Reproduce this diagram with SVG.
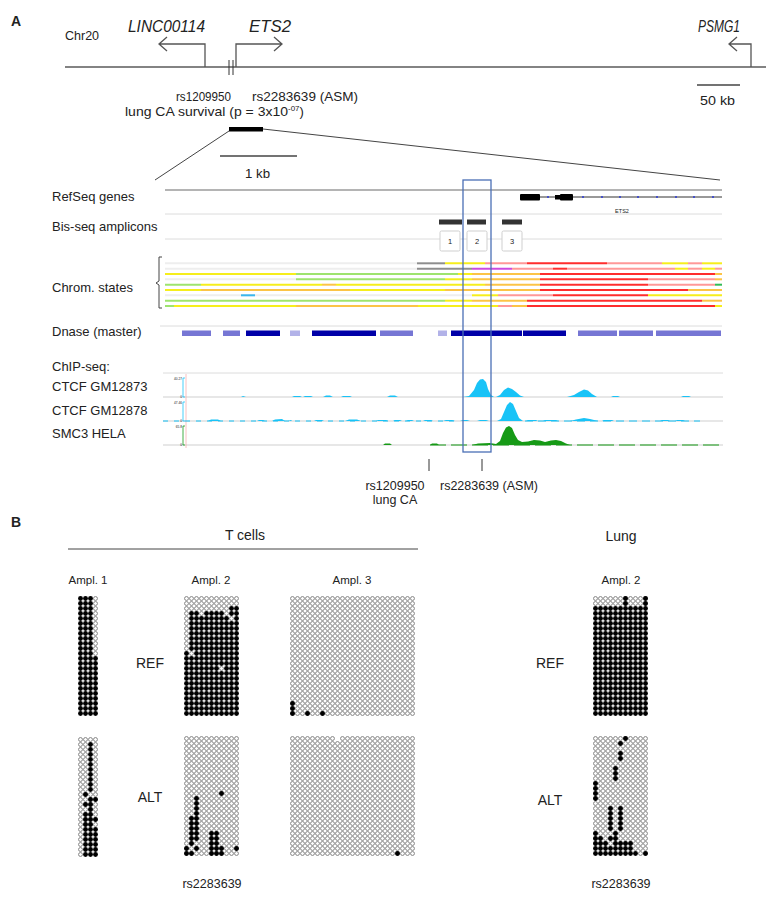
<svg xmlns="http://www.w3.org/2000/svg" xmlns:xlink="http://www.w3.org/1999/xlink" width="768" height="898" viewBox="0 0 768 898">
<style>
text{font-family:"Liberation Sans",Arial,sans-serif;fill:#222}
.lab{font-size:13px}
.it{font-style:italic;font-size:16px}
.b{font-weight:bold;font-size:14px}
.ax{stroke:#555;stroke-width:1.3;fill:none}
.cs line{stroke-width:2}
.cy{stroke:#f6ee1c}.cg{stroke:#9ee46e}.co{stroke:#fcc446}.cr{stroke:#ff2d2d}.cp{stroke:#ff9898}.cgr{stroke:#8e8e8e}.cm{stroke:#cc4ae0}.cb{stroke:#3ab7ee}.cf{stroke:#eeeeee}.cdg{stroke:#33bb55}
.sep{stroke:#dcdcdc;stroke-width:1}
.dk{fill:#0000a8}.dm{fill:#7676d4}.dl{fill:#b2b2e8}
.cyan{fill:#19c3f7}.grn{fill:#169a16}
</style>
<defs>
<pattern id="po" width="5" height="5" patternUnits="userSpaceOnUse"><rect width="5" height="5" fill="#fff"/><circle cx="2.5" cy="2.5" r="1.95" fill="#fff" stroke="#858585" stroke-width="1"/></pattern>
<pattern id="pk" width="5" height="5" patternUnits="userSpaceOnUse"><rect width="5" height="5" fill="#fff"/><circle cx="2.5" cy="2.5" r="2.45" fill="#000"/></pattern>
<circle id="k" cx="2.5" cy="2.5" r="2.45" fill="#000"/>
<g id="o"><rect width="5" height="5" fill="#fff"/><circle cx="2.5" cy="2.5" r="1.95" fill="#fff" stroke="#858585" stroke-width="1"/></g>
</defs>
<rect width="768" height="898" fill="#fff"/>

<!-- Panel A top -->
<g id="panelA-top">
<text class="b" x="11" y="26">A</text>
<text x="65" y="40" font-size="12.5">Chr20</text>
<text class="it" x="128" y="32" textLength="77" lengthAdjust="spacingAndGlyphs">LINC00114</text>
<text class="it" x="249" y="32" textLength="42" lengthAdjust="spacingAndGlyphs">ETS2</text>
<text class="it" x="698" y="32" textLength="42" lengthAdjust="spacingAndGlyphs">PSMG1</text>
<line x1="65" y1="67" x2="766" y2="67" stroke="#5a5a5a" stroke-width="1.5"/>
<path class="ax" d="M205,67 V44 H159 M167,37 L159,44 L167,51"/>
<path class="ax" d="M236,67 V44 H282 M274,37 L282,44 L274,51"/>
<path class="ax" d="M751,67 V44 H729 M737,37 L729,44 L737,51"/>
<line x1="229" y1="60" x2="229" y2="75" stroke="#333" stroke-width="1"/>
<line x1="233" y1="60" x2="233" y2="75" stroke="#333" stroke-width="1"/>
<line x1="697" y1="85" x2="740" y2="85" stroke="#444" stroke-width="1.3"/>
<text x="700" y="105" font-size="13" textLength="35" lengthAdjust="spacingAndGlyphs">50 kb</text>
<text x="176" y="101" font-size="13" textLength="55" lengthAdjust="spacingAndGlyphs">rs1209950</text>
<text x="252" y="101" font-size="13" textLength="106" lengthAdjust="spacingAndGlyphs">rs2283639 (ASM)</text>
<text x="125" y="116" font-size="13"><tspan textLength="163" lengthAdjust="spacingAndGlyphs">lung CA survival (p = 3x10</tspan><tspan dy="-5" font-size="8">-07</tspan><tspan dy="5">)</tspan></text>
<rect x="229" y="127" width="34" height="4.5" fill="#000"/>
<line x1="229" y1="131" x2="155" y2="180" stroke="#444" stroke-width="1"/>
<line x1="263" y1="129" x2="720" y2="180" stroke="#444" stroke-width="1"/>
<line x1="220" y1="156" x2="297" y2="156" stroke="#444" stroke-width="1.3"/>
<text x="245" y="178" font-size="13" textLength="25" lengthAdjust="spacingAndGlyphs">1 kb</text>
</g>

<!-- Track labels -->
<g id="track-labels" class="lab">
<text class="lab" x="52" y="201">RefSeq genes</text>
<text class="lab" x="52" y="231">Bis-seq amplicons</text>
<text class="lab" x="52" y="292">Chrom. states</text>
<text class="lab" x="52" y="336">Dnase (master)</text>
<text class="lab" x="52" y="371">ChIP-seq:</text>
<text class="lab" x="52" y="391">CTCF GM12873</text>
<text class="lab" x="52" y="415">CTCF GM12878</text>
<text class="lab" x="52" y="438">SMC3 HELA</text>
</g>

<!-- RefSeq -->
<g id="refseq">
<line x1="165" y1="190" x2="722" y2="190" stroke="#b4b4b4" stroke-width="2"/>
<line x1="520" y1="197" x2="722" y2="197" stroke="#333" stroke-width="1"/>
<rect x="520" y="194" width="20" height="6.5" rx="1" fill="#000"/>
<rect x="555" y="195" width="6" height="4.5" fill="#000"/>
<rect x="560" y="194" width="13" height="6.5" rx="1" fill="#000"/>
<g fill="#2a3ad6">
<circle cx="548" cy="197" r="1"/><circle cx="583" cy="197" r="1"/><circle cx="602" cy="197" r="1"/><circle cx="620" cy="197" r="1"/><circle cx="638" cy="197" r="1"/><circle cx="657" cy="197" r="1"/><circle cx="676" cy="197" r="1"/><circle cx="694" cy="197" r="1"/><circle cx="713" cy="197" r="1"/>
</g>
<text x="622" y="213" font-size="5.5" text-anchor="middle" fill="#333">ETS2</text>
<line class="sep" x1="165" y1="214" x2="722" y2="214"/>
</g>

<!-- Amplicons -->
<g id="amplicons">
<line class="sep" x1="165" y1="239" x2="722" y2="239"/>
<rect x="439" y="219.5" width="23" height="5" fill="#333"/>
<rect x="467" y="219.5" width="19" height="5" fill="#333"/>
<rect x="502" y="219.5" width="20" height="5" fill="#333"/>
<rect x="440" y="231" width="20" height="20" rx="1.5" fill="#fff" stroke="#cfcfcf" stroke-width="1"/>
<rect x="467" y="231" width="20" height="20" rx="1.5" fill="#fff" stroke="#cfcfcf" stroke-width="1"/>
<rect x="502" y="231" width="20" height="20" rx="1.5" fill="#fff" stroke="#cfcfcf" stroke-width="1"/>
<text x="450" y="244" font-size="7.5" text-anchor="middle" fill="#555">1</text>
<text x="477" y="244" font-size="7.5" text-anchor="middle" fill="#555">2</text>
<text x="512" y="244" font-size="7.5" text-anchor="middle" fill="#555">3</text>
</g>

<!-- Chromatin states -->
<g id="chrom-states" class="cs">
<path d="M162,257 H159 V281 L156,283 L159,285 V308 H162" fill="none" stroke="#444" stroke-width="1"/>
<line class="cf" x1="165" y1="263.3" x2="417" y2="263.3"/><line class="cgr" x1="417" y1="263.3" x2="445" y2="263.3"/><line class="cy" x1="445" y1="263.3" x2="485" y2="263.3"/><line class="cp" x1="485" y1="263.3" x2="527" y2="263.3"/><line class="cr" x1="527" y1="263.3" x2="607" y2="263.3"/><line class="cp" x1="607" y1="263.3" x2="662" y2="263.3"/><line class="cy" x1="662" y1="263.3" x2="688" y2="263.3"/><line class="cp" x1="688" y1="263.3" x2="702" y2="263.3"/><line class="cy" x1="702" y1="263.3" x2="722" y2="263.3"/>
<line class="cf" x1="165" y1="268.7" x2="417" y2="268.7"/><line class="cgr" x1="417" y1="268.7" x2="472" y2="268.7"/><line class="cm" x1="472" y1="268.7" x2="512" y2="268.7"/><line class="cp" x1="512" y1="268.7" x2="553" y2="268.7"/><line class="cr" x1="553" y1="268.7" x2="567" y2="268.7"/><line class="cp" x1="567" y1="268.7" x2="675" y2="268.7"/><line class="cy" x1="675" y1="268.7" x2="688" y2="268.7"/><line class="cp" x1="688" y1="268.7" x2="702" y2="268.7"/><line class="cy" x1="702" y1="268.7" x2="715" y2="268.7"/><line class="cp" x1="715" y1="268.7" x2="722" y2="268.7"/>
<line class="cy" x1="165" y1="274" x2="296" y2="274"/><line class="cg" x1="296" y1="274" x2="458" y2="274"/><line class="cy" x1="458" y1="274" x2="472" y2="274"/><line class="co" x1="472" y1="274" x2="540" y2="274"/><line class="cr" x1="540" y1="274" x2="715" y2="274"/><line class="co" x1="715" y1="274" x2="722" y2="274"/>
<line class="cf" x1="165" y1="279.3" x2="296" y2="279.3"/><line class="cg" x1="296" y1="279.3" x2="445" y2="279.3"/><line class="cy" x1="445" y1="279.3" x2="472" y2="279.3"/><line class="co" x1="472" y1="279.3" x2="540" y2="279.3"/><line class="cr" x1="540" y1="279.3" x2="648" y2="279.3"/><line class="cp" x1="648" y1="279.3" x2="715" y2="279.3"/><line class="co" x1="715" y1="279.3" x2="722" y2="279.3"/>
<line class="cg" x1="165" y1="284.7" x2="201" y2="284.7"/><line class="cy" x1="201" y1="284.7" x2="322" y2="284.7"/><line class="co" x1="322" y1="284.7" x2="336" y2="284.7"/><line class="cy" x1="336" y1="284.7" x2="485" y2="284.7"/><line class="co" x1="485" y1="284.7" x2="540" y2="284.7"/><line class="cr" x1="540" y1="284.7" x2="648" y2="284.7"/><line class="cp" x1="648" y1="284.7" x2="715" y2="284.7"/><line class="cdg" x1="715" y1="284.7" x2="722" y2="284.7"/>
<line class="cy" x1="165" y1="290" x2="201" y2="290"/><line class="co" x1="201" y1="290" x2="350" y2="290"/><line class="cy" x1="350" y1="290" x2="445" y2="290"/><line class="co" x1="445" y1="290" x2="540" y2="290"/><line class="cr" x1="540" y1="290" x2="688" y2="290"/><line class="co" x1="688" y1="290" x2="722" y2="290"/>
<line class="cf" x1="165" y1="295.3" x2="472" y2="295.3"/><line class="cb" x1="241" y1="295.3" x2="255" y2="295.3"/><line class="cy" x1="472" y1="295.3" x2="498" y2="295.3"/><line class="cp" x1="498" y1="295.3" x2="553" y2="295.3"/><line class="cr" x1="553" y1="295.3" x2="648" y2="295.3"/><line class="cy" x1="648" y1="295.3" x2="722" y2="295.3"/>
<line class="cg" x1="165" y1="300.7" x2="445" y2="300.7"/><line class="cy" x1="445" y1="300.7" x2="472" y2="300.7"/><line class="co" x1="472" y1="300.7" x2="527" y2="300.7"/><line class="cr" x1="527" y1="300.7" x2="702" y2="300.7"/><line class="co" x1="702" y1="300.7" x2="722" y2="300.7"/>
<line class="cg" x1="165" y1="306" x2="174" y2="306"/><line class="cy" x1="174" y1="306" x2="296" y2="306"/><line class="co" x1="296" y1="306" x2="418" y2="306"/><line class="cy" x1="418" y1="306" x2="498" y2="306"/><line class="cp" x1="498" y1="306" x2="512" y2="306"/><line class="co" x1="512" y1="306" x2="527" y2="306"/><line class="cr" x1="527" y1="306" x2="715" y2="306"/><line class="cy" x1="715" y1="306" x2="722" y2="306"/>
</g>

<!-- DNase -->
<g id="dnase">
<line class="sep" x1="160" y1="326" x2="722" y2="326"/>
<rect class="dm" x="182" y="330.5" width="29" height="5.5"/>
<rect class="dm" x="223" y="330.5" width="17" height="5.5"/>
<rect class="dk" x="246" y="330.5" width="34" height="5.5"/>
<rect class="dl" x="290" y="330.5" width="10" height="5.5"/>
<rect class="dk" x="312" y="330.5" width="64" height="5.5"/>
<rect class="dm" x="380" y="330.5" width="33" height="5.5"/>
<rect class="dl" x="438" y="330.5" width="9" height="5.5"/>
<rect class="dk" x="451" y="330.5" width="71" height="5.5"/>
<rect class="dk" x="523" y="330.5" width="43" height="5.5"/>
<rect class="dm" x="578" y="330.5" width="39" height="5.5"/>
<rect class="dm" x="619" y="330.5" width="34" height="5.5"/>
<rect class="dm" x="656" y="330.5" width="65" height="5.5"/>
</g>

<!-- ChIP-seq -->
<g id="chipseq">
<line class="sep" x1="163" y1="373" x2="723" y2="373"/>
<line x1="163" y1="397" x2="723" y2="397" stroke="#cfcfcf" stroke-width="1"/>
<line x1="163" y1="421" x2="723" y2="421" stroke="#cfcfcf" stroke-width="1"/>
<line x1="163" y1="445" x2="723" y2="445" stroke="#cfcfcf" stroke-width="1"/>
<line x1="186" y1="374" x2="186" y2="448" stroke="#f6b0b0" stroke-width="0.8"/>
<path d="M185,378 H183 V397 H185" fill="none" stroke="#19c3f7" stroke-width="0.8"/>
<path d="M185,402 H183 V421 H185" fill="none" stroke="#19c3f7" stroke-width="0.8"/>
<path d="M185,426 H183 V445 H185" fill="none" stroke="#169a16" stroke-width="0.8"/>
<g font-size="3.2" text-anchor="end">
<text x="182" y="380" fill="#19c3f7">40.27</text><text x="182" y="398" fill="#19c3f7">0</text>
<text x="182" y="404" fill="#19c3f7">47.46</text><text x="182" y="422" fill="#19c3f7">0</text>
<text x="182" y="428" fill="#169a16">65.8</text><text x="182" y="446" fill="#169a16">0</text>
</g>
<!-- CTCF GM12873 -->
<g class="cyan">
<path d="M463,397 L469,396 L474,390 L477,383 L480,379.5 L483,379 L486,382 L488,389 L491,395 L494,397 Z"/>
<path d="M496,397 L500,395 L504,390 L508,387.5 L512,389 L516,392 L520,395.5 L524,397 Z"/>
<path d="M567,397 L574,395 L579,392 L584,389.5 L588,390.5 L592,394 L597,397 Z"/>
<path d="M241,397 L243,396 L246,397 Z M292,397 L294,396 L300,396 L302,397 Z M303,397 L305,396 L311,396 L313,397 Z M323,397 L326,395.5 L330,395.5 L333,397 Z M341,397 L343,396 L350,396 L352,397 Z M387,397 L390,395.5 L395,395.5 L398,397 Z M611,397 L613,396 L618,396 L620,397 Z M681,397 L683,396 L689,396 L691,397 Z"/>
</g>
<!-- CTCF GM12878 -->
<g class="cyan">
<path d="M497,421 L501,419 L504,412 L507,405 L510,402 L513,404 L516,411 L519,418 L523,421 Z"/>
<path d="M570,421 L576,419.5 L584,418 L590,419 L598,421 Z"/>
<path d="M208,421 L211,419.5 L218,419.5 L221,421 Z M257,421 L259,420 L263,420 L265,421 Z M272,421 L275,419.5 L282,419 L285,421 Z M288,421 L291,420 L292,421 Z M314,421 L316,420 L322,420 L324,421 Z M345,421 L349,419.5 L357,419.5 L361,421 Z M376,421 L378,420 L386,420 L388,421 Z M393,421 L395,420 L400,420 L402,421 Z M406,421 L408,420 L412,420 L414,421 Z M423,421 L425,420 L431,420 L433,421 Z M443,421 L446,420 L452,420 L455,421 Z M460,421 L463,420 L467,420 L470,421 Z M477,421 L480,420 L486,420 L489,421 Z M526,421 L528,420 L536,420 L538,421 Z M543,421 L545,420 L556,420 L558,421 Z M602,421 L604,420 L612,420 L614,421 Z M660,421 L662,420 L668,420 L670,421 Z M675,421 L677,420 L683,420 L685,421 Z"/>
</g>
<line x1="163" y1="421" x2="460" y2="421" stroke="#19c3f7" stroke-width="1" stroke-dasharray="5 6"/>
<line x1="525" y1="421" x2="700" y2="421" stroke="#19c3f7" stroke-width="1" stroke-dasharray="8 5"/>
<!-- SMC3 -->
<g class="grn">
<path d="M472,445 L478,443.5 L490,443 L496,444 L500,441 L503,433 L506,427.5 L509,426 L512,428 L515,435 L518,440 L522,442 L528,441.5 L534,440 L540,440.5 L545,442 L551,440.5 L556,440 L561,441 L566,443.5 L570,445 Z"/>
<path d="M383,445 L385,443.5 L390,443.5 L392,445 Z M430,445 L432,443.5 L437,443.5 L439,445 Z"/>
</g>
<line x1="430" y1="445" x2="722" y2="445" stroke="#169a16" stroke-width="1.2" stroke-dasharray="16 5"/>
</g>

<!-- highlight box -->
<rect id="highlight" x="463" y="180" width="28" height="272" fill="none" stroke="#4a6fb5" stroke-width="1.3"/>

<!-- SNP markers -->
<g id="snps">
<line x1="429" y1="459" x2="429" y2="471" stroke="#333" stroke-width="1"/>
<line x1="482" y1="459" x2="482" y2="471" stroke="#333" stroke-width="1"/>
<text x="395" y="490" font-size="12.5" text-anchor="middle">rs1209950</text>
<text x="395" y="504" font-size="12.5" text-anchor="middle">lung CA</text>
<text x="440" y="490" font-size="12.5">rs2283639 (ASM)</text>
</g>

<!-- Panel B -->
<g id="panelB-labels">
<text class="b" x="11" y="527">B</text>
<text x="245" y="540" font-size="14" text-anchor="middle">T cells</text>
<line x1="68" y1="549" x2="418" y2="549" stroke="#444" stroke-width="1"/>
<text x="621" y="541" font-size="14" text-anchor="middle">Lung</text>
<g font-size="11.5" text-anchor="middle">
<text x="88" y="584">Ampl. 1</text>
<text x="211" y="584">Ampl. 2</text>
<text x="352" y="584">Ampl. 3</text>
<text x="621" y="584">Ampl. 2</text>
</g>
<g font-size="14" text-anchor="middle">
<text x="150" y="668">REF</text>
<text x="150" y="802">ALT</text>
<text x="550" y="668">REF</text>
<text x="550" y="805">ALT</text>
</g>
<text x="212" y="888" font-size="12.5" text-anchor="middle">rs2283639</text>
<text x="621" y="888" font-size="12.5" text-anchor="middle">rs2283639</text>
</g>

<g id="tcell-ampl1-ref" transform="translate(78,596)">
<rect width="20" height="120" fill="url(#pk)"/>
<rect x="15" y="0" width="5" height="60" fill="url(#po)"/>
</g>
<g id="tcell-ampl1-alt" transform="translate(78,737)">
<rect width="20" height="120" fill="url(#po)"/>
<rect x="10" y="5" width="5" height="50" fill="url(#pk)"/>
<use href="#k" x="5" y="55"/>
<use href="#k" x="10" y="60"/><use href="#k" x="15" y="60"/>
<use href="#k" x="5" y="65"/><use href="#k" x="10" y="65"/>
<use href="#k" x="10" y="70"/>
<use href="#k" x="5" y="75"/><use href="#k" x="10" y="75"/>
<use href="#k" x="5" y="80"/><use href="#k" x="10" y="80"/><use href="#k" x="15" y="80"/>
<use href="#k" x="5" y="85"/><use href="#k" x="10" y="85"/>
<rect x="5" y="90" width="15" height="30" fill="url(#pk)"/>
</g>

<g id="tcell-ampl2-ref" transform="translate(184,596)">
<rect width="55" height="120" fill="url(#pk)"/>
<rect width="55" height="10" fill="url(#po)"/>
<rect y="10" width="45" height="5" fill="url(#po)"/>
<use href="#o" x="0" y="15"/><use href="#o" x="15" y="15"/><use href="#o" x="40" y="15"/>
<use href="#o" x="0" y="20"/><use href="#o" x="45" y="20"/>
<rect y="25" width="5" height="30" fill="url(#po)"/>
<use href="#o" x="5" y="55"/>
<use href="#o" x="35" y="70"/>
</g>
<g id="tcell-ampl2-alt" transform="translate(184,736)">
<rect width="55" height="120" fill="url(#po)"/>
<use href="#k" x="35" y="55"/>
<use href="#k" x="10" y="60"/><use href="#k" x="10" y="65"/><use href="#k" x="10" y="70"/><use href="#k" x="10" y="75"/>
<use href="#k" x="5" y="80"/><use href="#k" x="10" y="80"/>
<use href="#k" x="5" y="85"/><use href="#k" x="10" y="85"/>
<use href="#k" x="5" y="90"/><use href="#k" x="10" y="90"/>
<use href="#k" x="5" y="95"/><use href="#k" x="10" y="95"/><use href="#k" x="25" y="95"/><use href="#k" x="30" y="95"/>
<use href="#k" x="5" y="100"/><use href="#k" x="10" y="100"/><use href="#k" x="25" y="100"/><use href="#k" x="30" y="100"/>
<use href="#k" x="5" y="105"/><use href="#k" x="25" y="105"/><use href="#k" x="30" y="105"/>
<use href="#k" x="0" y="110"/><use href="#k" x="10" y="110"/><use href="#k" x="25" y="110"/><use href="#k" x="30" y="110"/><use href="#k" x="35" y="110"/><use href="#k" x="50" y="110"/>
<use href="#k" x="0" y="115"/><use href="#k" x="5" y="115"/><use href="#k" x="25" y="115"/><use href="#k" x="30" y="115"/><use href="#k" x="35" y="115"/>
</g>

<g id="tcell-ampl3-ref" transform="translate(290,596)">
<rect width="125" height="120" fill="url(#po)"/>
<use href="#k" x="0" y="105"/><use href="#k" x="0" y="110"/><use href="#k" x="0" y="115"/><use href="#k" x="15" y="115"/><use href="#k" x="30" y="115"/>
</g>
<g id="tcell-ampl3-alt" transform="translate(290,736)">
<rect width="125" height="120" fill="url(#po)"/>
<rect x="45" y="0" width="5" height="5" fill="#fff"/>
<use href="#k" x="105" y="115"/>
</g>

<g id="lung-ampl2-ref" transform="translate(593,596)">
<rect width="55" height="120" fill="url(#pk)"/>
<rect width="55" height="10" fill="url(#po)"/>
<use href="#k" x="30" y="0"/><use href="#k" x="50" y="0"/>
<use href="#k" x="30" y="5"/><use href="#k" x="50" y="5"/>
</g>
<g id="lung-ampl2-alt" transform="translate(593,736)">
<rect width="55" height="120" fill="url(#po)"/>
<use href="#k" x="30" y="0"/>
<use href="#k" x="25" y="5"/><use href="#k" x="25" y="15"/><use href="#k" x="25" y="20"/>
<use href="#k" x="20" y="30"/><use href="#k" x="20" y="35"/><use href="#k" x="20" y="40"/>
<use href="#k" x="0" y="45"/><use href="#k" x="0" y="50"/><use href="#k" x="0" y="55"/><use href="#k" x="0" y="60"/>
<use href="#k" x="15" y="70"/><use href="#k" x="25" y="70"/>
<use href="#k" x="15" y="75"/><use href="#k" x="25" y="75"/>
<use href="#k" x="15" y="80"/><use href="#k" x="25" y="80"/>
<use href="#k" x="15" y="85"/><use href="#k" x="25" y="85"/>
<use href="#k" x="15" y="90"/><use href="#k" x="25" y="90"/>
<use href="#k" x="0" y="95"/><use href="#k" x="20" y="95"/>
<use href="#k" x="0" y="100"/><use href="#k" x="5" y="100"/><use href="#k" x="15" y="100"/><use href="#k" x="20" y="100"/>
<use href="#k" x="0" y="105"/><use href="#k" x="5" y="105"/><use href="#k" x="10" y="105"/><use href="#k" x="20" y="105"/><use href="#k" x="25" y="105"/><use href="#k" x="30" y="105"/><use href="#k" x="35" y="105"/>
<rect x="0" y="110" width="40" height="5" fill="url(#pk)"/>
<rect x="0" y="115" width="45" height="5" fill="url(#pk)"/><use href="#k" x="50" y="115"/>
</g>
</svg>
